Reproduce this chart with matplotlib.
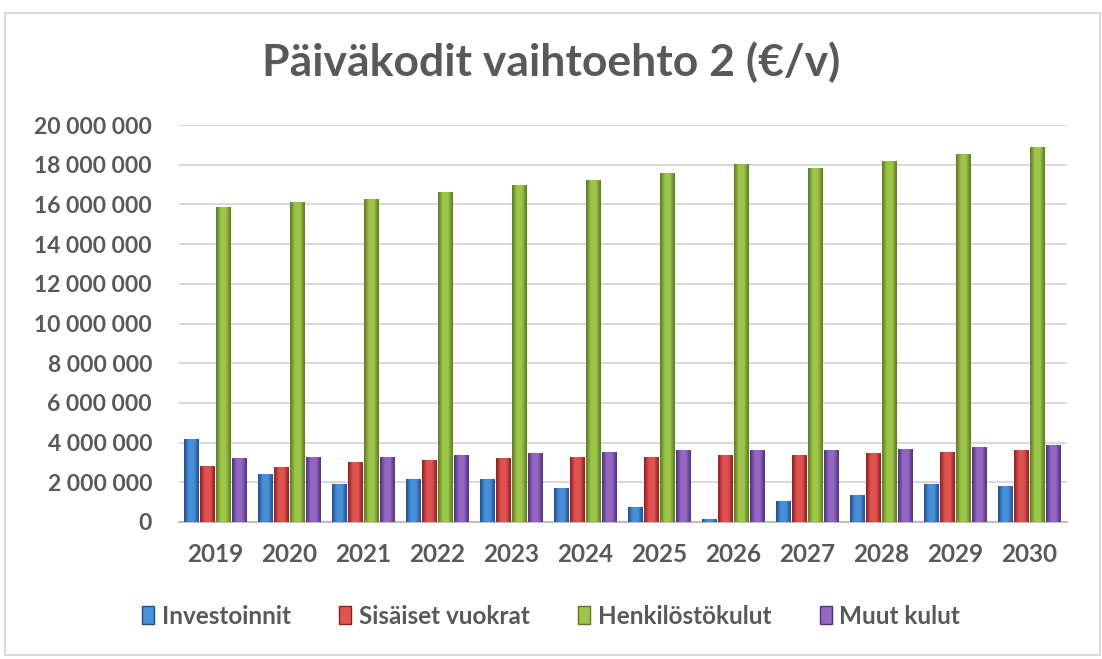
import numpy as np
import matplotlib.pyplot as plt
from matplotlib.patches import Rectangle
from matplotlib.colors import LinearSegmentedColormap

# data
vuodet = ["2019", "2020", "2021", "2022", "2023", "2024",
          "2025", "2026", "2027", "2028", "2029", "2030"]
investoinnit = [4.17, 2.41, 1.91, 2.17, 2.15, 1.73, 0.77, 0.17, 1.04, 1.38, 1.90, 1.80]
vuokrat = [2.84, 2.75, 3.02, 3.11, 3.21, 3.27, 3.27, 3.38, 3.38, 3.46, 3.53, 3.61]
henkilosto = [15.87, 16.12, 16.29, 16.63, 17.00, 17.25, 17.58, 18.02, 17.83, 18.19, 18.54, 18.89]
muut = [3.21, 3.29, 3.29, 3.38, 3.46, 3.54, 3.61, 3.61, 3.61, 3.69, 3.79, 3.89]

sarjat = ["Investoinnit", "Sisäiset vuokrat", "Henkilöstökulut", "Muut kulut"]
arvot = [investoinnit, vuokrat, henkilosto, muut]
# (dark edge, light middle)
varit = [("#1f4f8f", "#4a90d9"), ("#8e1f1d", "#e05452"),
         ("#5b7a1e", "#9dc64a"), ("#4f2f78", "#9467c4")]

plt.rcParams["font.family"] = ["Lato", "DejaVu Sans"]
harmaa = "#595959"

fig = plt.figure(figsize=(11.02, 6.59), dpi=100)
ax = fig.add_axes([178.5 / 1102, 1 - 522 / 659, 888 / 1102, 397 / 659])

x = np.arange(len(vuodet))
w = 0.213
for i, (nimi, vals, (tumma, vaalea)) in enumerate(zip(sarjat, arvot, varit)):
    cmap = LinearSegmentedColormap.from_list(nimi, [tumma, vaalea, vaalea, tumma])
    grad = np.linspace(0, 1, 64).reshape(1, -1)
    bars = ax.bar(x + (i - 1.5) * w, np.array(vals) * 1e6, width=w * 0.94,
                  color=vaalea, edgecolor="none", label=nimi, zorder=2)
    for b in bars:
        bx, by = b.get_x(), b.get_y()
        bw, bh = b.get_width(), b.get_height()
        im = ax.imshow(grad, cmap=cmap, aspect="auto", zorder=3,
                       extent=(bx, bx + bw, by, by + bh), interpolation="bicubic")
        im.set_clip_path(b)

ax.set_xlim(-0.5, len(vuodet) - 0.5)
ax.set_ylim(0, 20e6)
ax.set_yticks(np.arange(0, 20e6 + 1, 2e6))
ax.set_yticklabels([f"{int(v):,}".replace(",", " ") for v in np.arange(0, 20e6 + 1, 2e6)])
ax.set_xticks(x)
ax.set_xticklabels(vuodet)
ax.yaxis.grid(True, color="#d9d9d9", lw=1.5, zorder=0)
ax.set_axisbelow(True)
for s in ["top", "right", "left"]:
    ax.spines[s].set_visible(False)
ax.spines["bottom"].set_color("#bfbfbf")
ax.spines["bottom"].set_linewidth(1.5)
ax.tick_params(length=0, labelcolor=harmaa)
ax.tick_params(axis="x", labelsize=17.5, pad=15)
ax.tick_params(axis="y", labelsize=16.5, pad=19)
for t in ax.get_xticklabels() + ax.get_yticklabels():
    t.set_fontweight("bold")

fig.text(0.5, 1 - 62 / 659, "Päiväkodit vaihtoehto 2 (€/v)", ha="center", va="center",
         fontsize=32, fontweight="bold", color=harmaa)

handles = [Rectangle((0, 0), 1, 1, facecolor=v[1], edgecolor=v[0]) for v in varit]
fig.legend(handles, sarjat, loc="center", bbox_to_anchor=(0.5, 1 - 616 / 659), ncol=4,
           frameon=False, handlelength=0.5, handleheight=0.7, handletextpad=0.3,
           columnspacing=2.0, prop={"size": 17.5, "weight": "bold"}, labelcolor=harmaa)

fig.add_artist(Rectangle((5 / 1102, 4 / 659), 1095 / 1102, 642 / 659, transform=fig.transFigure,
                         fill=False, edgecolor="#d9d9d9", lw=1.5))

fig.savefig("out.png", dpi=100)
